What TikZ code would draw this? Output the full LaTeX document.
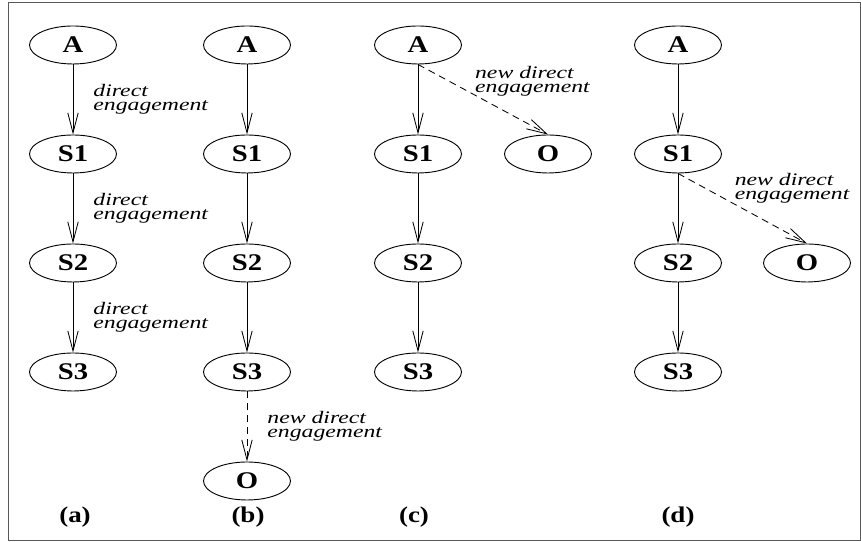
\documentclass[tikz,border=0pt]{standalone}
\usepackage{fontspec}
\setmainfont{Liberation Serif}
\newfontfamily\nodefont[FakeStretch=1.2]{Liberation Serif}
\newfontfamily\lblfont[FakeStretch=1.35]{Liberation Serif}
\usepackage{tikz}
\usetikzlibrary{shapes.geometric,arrows.meta,positioning}

\begin{document}
\begin{tikzpicture}[
      party/.style={ellipse, draw, line width=0.65pt, minimum width=2.175cm,
                    minimum height=0.95cm, inner sep=0pt,
                    font=\nodefont\fontsize{17}{18}\selectfont\bfseries},
      arr/.style={-{Straight Barb[length=5mm,width=2.6mm]}, line width=0.6pt},
      newarr/.style={arr, dash pattern=on 5pt off 3.5pt},
      lbl/.style={align=left, inner sep=0pt,
                  font=\lblfont\fontsize{12.5}{9.8}\selectfont\itshape},
      caption/.style={font=\nodefont\fontsize{16}{18}\selectfont\bfseries},
    ]

    % Frame
    \useasboundingbox (0,0) rectangle (21.525,13.55);
    \draw[black!65, line width=0.6pt] (0.2,0.05) rectangle (21.5,13.5);

    % (a) chain of direct engagements
    \node[party] (aA)  at (1.825, 12.425) {A};
    \node[party] (aS1) at (1.825, 9.7)    {S1};
    \node[party] (aS2) at (1.825, 6.975)  {S2};
    \node[party] (aS3) at (1.825, 4.25)   {S3};

    % (b) new engagement below S3
    \node[party] (bA)  at (6.175, 12.425) {A};
    \node[party] (bS1) at (6.175, 9.7)    {S1};
    \node[party] (bS2) at (6.175, 6.975)  {S2};
    \node[party] (bS3) at (6.175, 4.25)   {S3};
    \node[party] (bO)  at (6.175, 1.525)  {O};

    % (c) new engagement from A
    \node[party] (cA)  at (10.45, 12.425) {A};
    \node[party] (cS1) at (10.45, 9.7)    {S1};
    \node[party] (cS2) at (10.45, 6.975)  {S2};
    \node[party] (cS3) at (10.45, 4.25)   {S3};
    \node[party] (cO)  at (13.7, 9.7)     {O};

    % (d) new engagement from S1
    \node[party] (dA)  at (16.95, 12.425) {A};
    \node[party] (dS1) at (16.95, 9.7)    {S1};
    \node[party] (dS2) at (16.95, 6.975)  {S2};
    \node[party] (dS3) at (16.95, 4.25)   {S3};
    \node[party] (dO)  at (20.175, 6.975) {O};

    % Captions
    \node[caption] (capa) at (1.875, 0.625)  {(a)};
    \node[caption] (capb) at (6.2, 0.625)    {(b)};
    \node[caption] (capc) at (10.35, 0.625)  {(c)};
    \node[caption] (capd) at (16.95, 0.625)  {(d)};

    % Arrows (a)
    \draw[arr] (aA) -- node[lbl, right=0.5cm] {direct\\engagement} (aS1);
    \draw[arr] (aS1) -- node[lbl, right=0.5cm] {direct\\engagement} (aS2);
    \draw[arr] (aS2) -- node[lbl, right=0.5cm] {direct\\engagement} (aS3);

    % Arrows (b)
    \draw[arr] (bA) -- (bS1);
    \draw[arr] (bS1) -- (bS2);
    \draw[arr] (bS2) -- (bS3);
    \draw[newarr] (bS3) -- node[lbl, right=0.5cm] {new direct\\engagement} (bO);

    % Arrows (c)
    \draw[arr] (cA) -- (cS1);
    \draw[arr] (cS1) -- (cS2);
    \draw[arr] (cS2) -- (cS3);
    \draw[newarr] (cA.south) --
      node[lbl, anchor=west, pos=0.35, xshift=0.28cm, yshift=0.2cm] {new direct\\engagement}
      (cO.north);

    % Arrows (d)
    \draw[arr] (dA) -- (dS1);
    \draw[arr] (dS1) -- (dS2);
    \draw[arr] (dS2) -- (dS3);
    \draw[newarr] (dS1.south) --
      node[lbl, anchor=west, pos=0.35, xshift=0.28cm, yshift=0.25cm] {new direct\\engagement}
      (dO.north);

    \end{tikzpicture}
\end{document}
